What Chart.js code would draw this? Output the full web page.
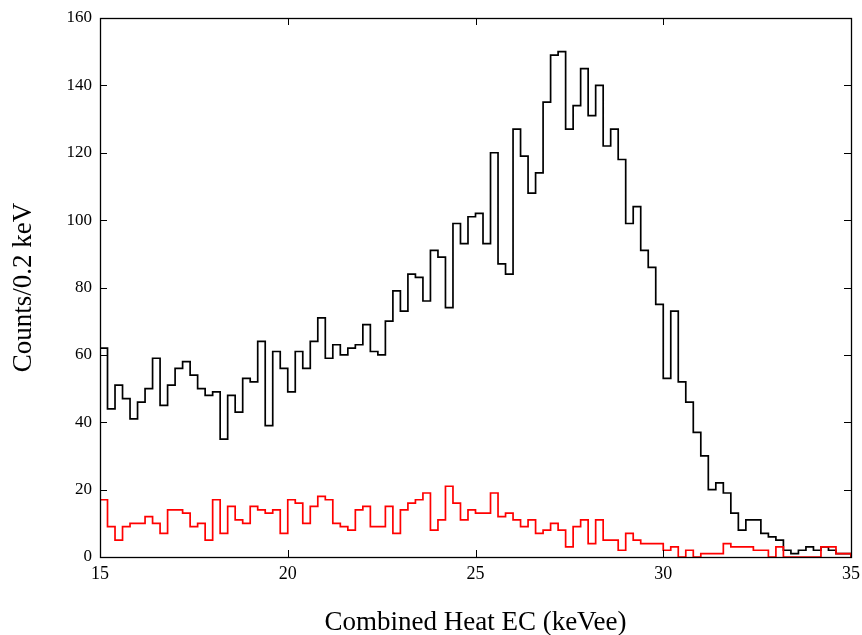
<!DOCTYPE html>
<html>
<head>
<meta charset="utf-8">
<script src="https://cdn.jsdelivr.net/npm/chart.js@4.4.0/dist/chart.umd.min.js"></script>
<style>
  html, body { margin: 0; padding: 0; background: #ffffff; }
  #wrap { width: 862px; height: 635px; }
</style>
</head>
<body>
<div id="wrap"><canvas id="c" width="862" height="635"></canvas></div>
<script>
// ---- data ----
const binStart = 15;
const binWidth = 0.2;
const xTickValues = [15, 20, 25, 30, 35];
const yTickValues = [0, 20, 40, 60, 80, 100, 120, 140, 160];

const blackCounts = [
  62, 44, 51, 47, 41, 46, 50, 59, 45, 51,
  56, 58, 54, 50, 48, 49, 35, 48, 43, 53,
  52, 64, 39, 61, 56, 49, 61, 56, 64, 71,
  59, 63, 60, 62, 63, 69, 61, 60, 70, 79,
  73, 84, 83, 76, 91, 89, 74, 99, 93, 101,
  102, 93, 120, 87, 84, 127, 119, 108, 114, 135,
  149, 150, 127, 134, 145, 131, 140, 122, 127, 118,
  99, 104, 91, 86, 75, 53, 73, 52, 46, 37,
  30, 20, 22, 19, 13, 8, 11, 11, 7, 6,
  5, 2, 1, 2, 3, 2, 3, 2, 1, 1
];

const redCounts = [
  17, 9, 5, 9, 10, 10, 12, 10, 7, 14,
  14, 13, 9, 10, 5, 17, 7, 15, 11, 10,
  15, 14, 13, 14, 7, 17, 16, 10, 15, 18,
  17, 10, 9, 8, 14, 15, 9, 9, 15, 7,
  14, 16, 17, 19, 8, 11, 21, 16, 11, 14,
  13, 13, 19, 12, 13, 11, 9, 11, 7, 8,
  10, 8, 3, 9, 11, 4, 11, 5, 5, 2,
  7, 5, 4, 4, 4, 2, 3, 0, 2, 0,
  1, 1, 1, 4, 3, 3, 3, 2, 2, 0,
  3, 0, 0, 0, 0, 0, 3, 3, 1, 1
];

const xTitle = 'Combined Heat EC (keVee)';
const yTitle = 'Counts/0.2 keV';

// histogram outline: each bin is a point at its left edge; the line holds the
// previous value until the next edge ('before' stepping), closed at both ends
function stepPoints(counts) {
  const pts = [{ x: binStart, y: 0 }];
  counts.forEach((c, i) => pts.push({ x: binStart + i * binWidth, y: c }));
  const end = binStart + counts.length * binWidth;
  pts.push({ x: end, y: counts[counts.length - 1] });
  pts.push({ x: end, y: 0 });
  return pts;
}

const FONT = "'Liberation Serif', 'Times New Roman', serif";
const TICK_LEN = 7;

const frameAndTicks = {
  id: 'frameAndTicks',
  afterDatasetsDraw(chart) {
    const { ctx, chartArea: a, scales } = chart;
    ctx.save();
    ctx.strokeStyle = '#000';
    ctx.lineWidth = 1;
    ctx.beginPath();
    scales.x.ticks.forEach(t => {
      const px = Math.round(scales.x.getPixelForValue(t.value)) + 0.5;
      ctx.moveTo(px, a.bottom); ctx.lineTo(px, a.bottom - TICK_LEN);
      ctx.moveTo(px, a.top); ctx.lineTo(px, a.top + TICK_LEN);
    });
    scales.y.ticks.forEach(t => {
      const py = Math.round(scales.y.getPixelForValue(t.value)) + 0.5;
      ctx.moveTo(a.left, py); ctx.lineTo(a.left + TICK_LEN, py);
      ctx.moveTo(a.right, py); ctx.lineTo(a.right - TICK_LEN, py);
    });
    ctx.stroke();
    ctx.lineWidth = 1.3;
    ctx.strokeRect(Math.round(a.left) + 0.5, Math.round(a.top) + 0.5,
                   Math.round(a.right - a.left), Math.round(a.bottom - a.top));
    ctx.restore();
  }
};

new Chart(document.getElementById('c'), {
  type: 'line',
  data: {
    datasets: [
      {
        label: 'red',
        data: stepPoints(redCounts),
        borderColor: '#ff0000',
        borderWidth: 1.7,
        stepped: 'before',
        pointRadius: 0,
        fill: false,
        order: 0
      },
      {
        label: 'black',
        data: stepPoints(blackCounts),
        borderColor: '#000000',
        borderWidth: 1.7,
        stepped: 'before',
        pointRadius: 0,
        fill: false,
        order: 1
      }
    ]
  },
  options: {
    responsive: false,
    animation: false,
    events: [],
    layout: { padding: { left: 0, right: 11, top: 18, bottom: 0 } },
    plugins: { legend: { display: false }, tooltip: { enabled: false } },
    scales: {
      x: {
        type: 'linear',
        min: 15, max: 35,
        afterBuildTicks(scale) { scale.ticks = xTickValues.map(v => ({ value: v })); },
        afterFit(scale) { scale.height = 78; scale.paddingLeft = 0; scale.paddingRight = 0; },
        grid: { display: false, drawTicks: false },
        border: { display: false },
        ticks: {
          autoSkip: false, maxRotation: 0, padding: 6, color: '#000',
          font: { family: FONT, size: 18 },
          callback: v => String(v)
        },
        title: {
          display: true, text: xTitle, color: '#000',
          font: { family: FONT, size: 27 },
          padding: { top: 0, bottom: -4 }
        }
      },
      y: {
        type: 'linear',
        min: 0, max: 160,
        afterBuildTicks(scale) { scale.ticks = yTickValues.map(v => ({ value: v })); },
        afterFit(scale) { scale.width = 100; scale.paddingTop = 0; scale.paddingBottom = 0; },
        grid: { display: false, drawTicks: false },
        border: { display: false },
        ticks: {
          autoSkip: false, padding: 8, color: '#000',
          font: { family: FONT, size: 17 },
          callback: v => String(v)
        },
        title: {
          display: true, text: yTitle, color: '#000',
          font: { family: FONT, size: 27 },
          padding: { top: 8, bottom: 0 }
        }
      }
    }
  },
  plugins: [frameAndTicks]
});
</script>
</body>
</html>
